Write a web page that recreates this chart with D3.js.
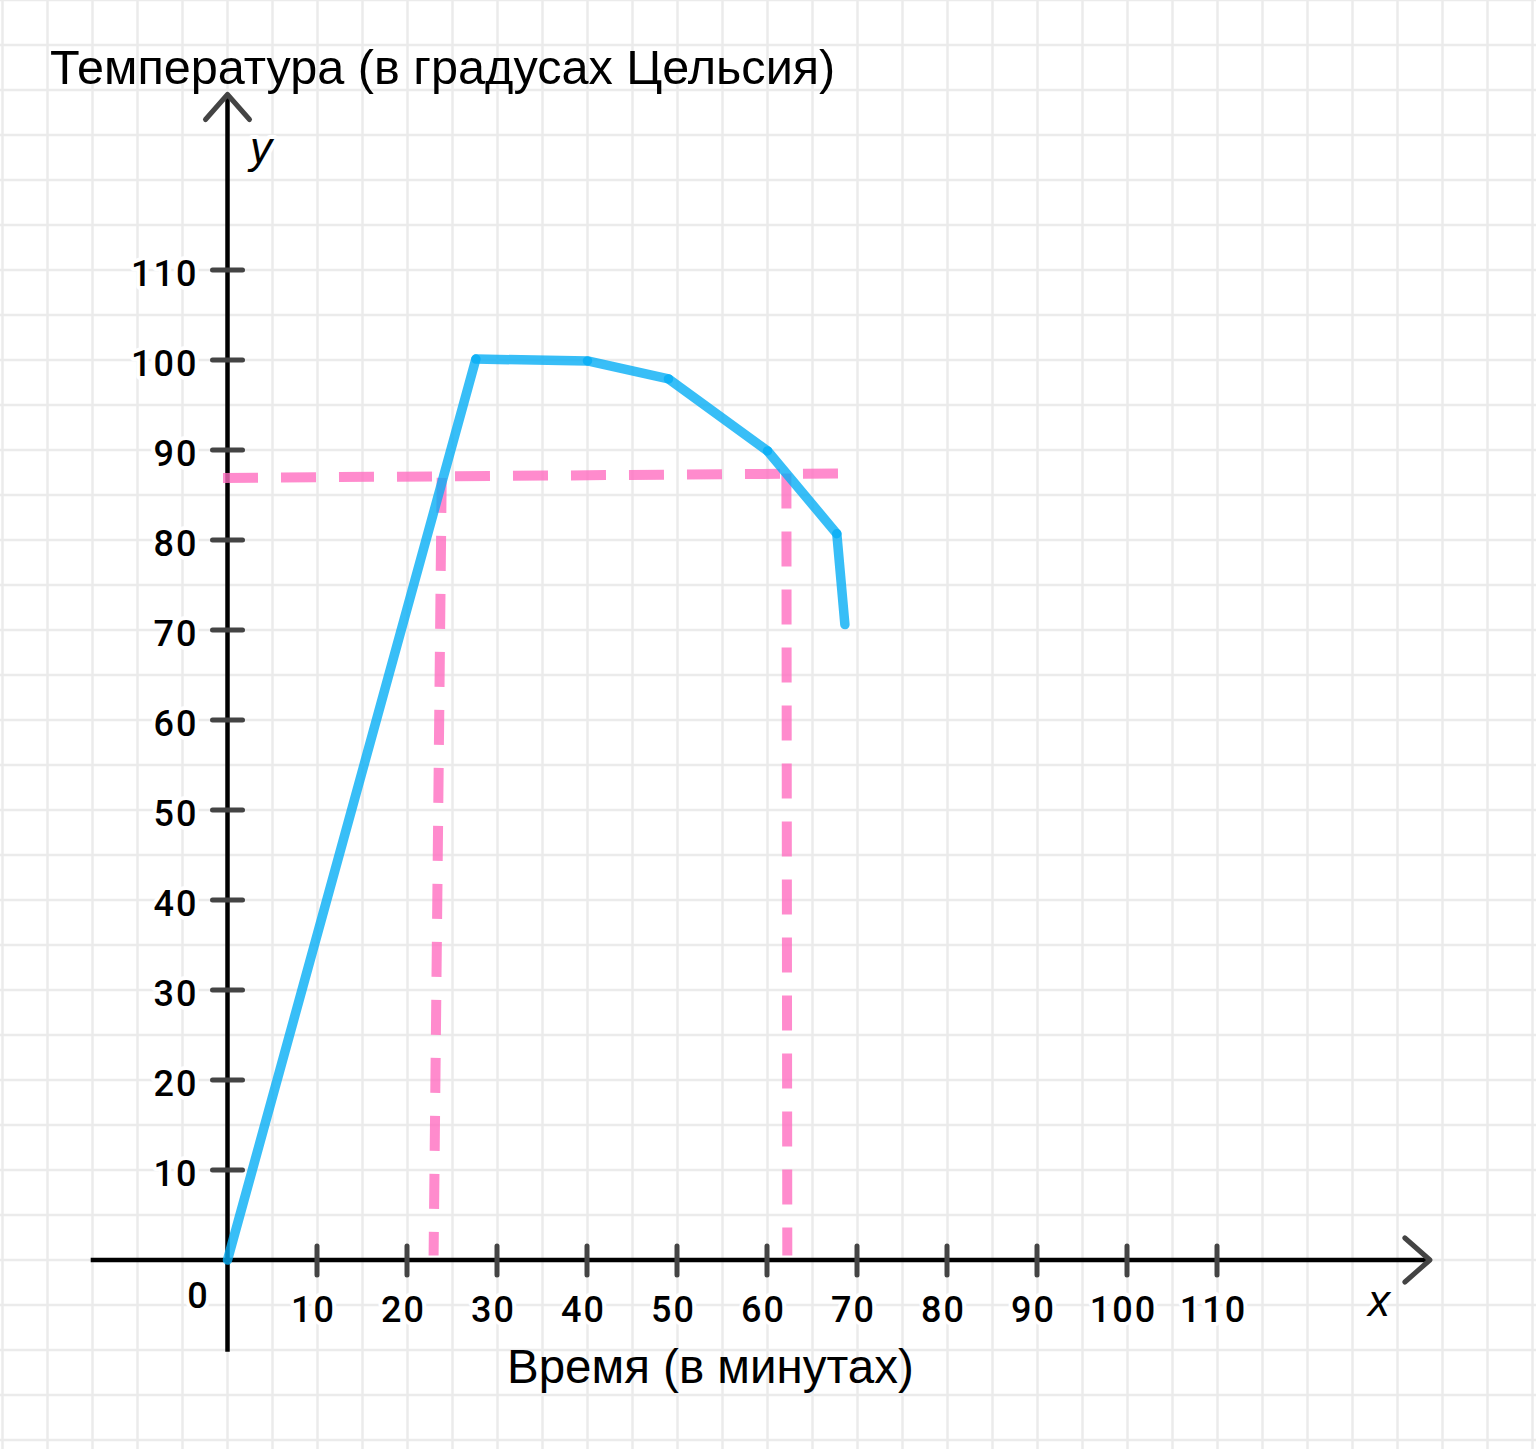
<!DOCTYPE html>
<html><head><meta charset="utf-8">
<script src="https://cdn.jsdelivr.net/npm/d3@7"></script>
<style>html,body{margin:0;padding:0;background:#fff;}svg{display:block;}</style>
</head><body>
<svg id="chart" width="1536" height="1449"></svg>
<script>
// ---- data ----
const timeMin = [0, 27.6, 40, 49, 60, 67.7, 68.6];
const tempC   = [0, 100.1, 99.9, 97.9, 89.9, 80.7, 70.6];
const xTickValues = [10, 20, 30, 40, 50, 60, 70, 80, 90, 100, 110];
const yTickValues = [10, 20, 30, 40, 50, 60, 70, 80, 90, 100, 110];
const guideHx = [-0.5, 68.5], guideHy = [86.9, 87.4];
const guide1x = [23.8, 22.9], guide1y = [86.9, 0.5];
const guide2x = [62.1, 62.2], guide2y = [87.4, 0.5];
const yTitle = "Температура (в градусах Цельсия)";
const xTitle = "Время (в минутах)";

const svg = d3.select("#chart");
const x = d3.scaleLinear().domain([0, 110]).range([227.5, 1217.5]);
const y = d3.scaleLinear().domain([0, 110]).range([1260, 270]);

// background
svg.append("rect").attr("width", 1536).attr("height", 1449).attr("fill", "#fff");

// grid (every 5 units)
const g = svg.append("g").attr("stroke", "#ebebeb").attr("stroke-width", 2.5);
d3.range(-25, 146, 5).forEach(v => {
  g.append("line").attr("x1", x(v)).attr("x2", x(v)).attr("y1", 0).attr("y2", 1449);
});
d3.range(-20, 141, 5).forEach(v => {
  g.append("line").attr("y1", y(v)).attr("y2", y(v)).attr("x1", 0).attr("x2", 1536);
});

// axes
svg.append("line").attr("x1", x(-15.2)).attr("x2", x(133.6)).attr("y1", y(0)).attr("y2", y(0))
  .attr("stroke", "#000").attr("stroke-width", 4.5);
svg.append("line").attr("x1", x(0)).attr("x2", x(0)).attr("y1", y(-10.2)).attr("y2", y(129.5))
  .attr("stroke", "#000").attr("stroke-width", 4.5);

const dark = "#444";
// arrowheads
svg.append("path")
  .attr("d", `M${x(0)-22},${y(129.5)+25} L${x(0)},${y(129.5)} L${x(0)+22},${y(129.5)+25}`)
  .attr("fill", "none").attr("stroke", dark).attr("stroke-width", 5)
  .attr("stroke-linecap", "round").attr("stroke-linejoin", "round");
svg.append("path")
  .attr("d", `M${x(133.6)-25},${y(0)-22} L${x(133.6)},${y(0)} L${x(133.6)-25},${y(0)+22}`)
  .attr("fill", "none").attr("stroke", dark).attr("stroke-width", 5)
  .attr("stroke-linecap", "round").attr("stroke-linejoin", "round");

// ticks
svg.append("g").selectAll("line").data(xTickValues).join("line")
  .attr("x1", d => x(d) - 0.5).attr("x2", d => x(d) - 0.5)
  .attr("y1", y(0) - 14).attr("y2", y(0) + 15)
  .attr("stroke", dark).attr("stroke-width", 5).attr("stroke-linecap", "round");
svg.append("g").selectAll("line").data(yTickValues).join("line")
  .attr("y1", d => y(d)).attr("y2", d => y(d))
  .attr("x1", x(0) - 15).attr("x2", x(0) + 15)
  .attr("stroke", dark).attr("stroke-width", 5).attr("stroke-linecap", "round");

// labels
function halo(sel) {
  return sel.attr("stroke", "#fff").attr("stroke-width", 8).attr("stroke-linejoin", "round")
    .attr("paint-order", "stroke").attr("fill", "#000");
}
const textFont = "'Liberation Sans', Arial, sans-serif";
const tickFont = "Roboto, 'Liberation Sans', sans-serif";
halo(svg.append("g").selectAll("text").data(xTickValues).join("text")
  .attr("x", d => x(d) - 4).attr("y", y(0) + 62)
  .attr("text-anchor", "middle").attr("font-family", tickFont).attr("font-size", 36)
  .attr("font-weight", 500).attr("letter-spacing", 2).text(d => d));
halo(svg.append("g").selectAll("text").data(yTickValues).join("text")
  .attr("x", x(0) - 29).attr("y", d => y(d) + 16)
  .attr("text-anchor", "end").attr("font-family", tickFont).attr("font-size", 36)
  .attr("font-weight", 500).attr("letter-spacing", 2).text(d => d));
halo(svg.append("text").attr("x", x(0) - 30).attr("y", y(0) + 48)
  .attr("text-anchor", "middle").attr("font-family", tickFont).attr("font-size", 36)
  .attr("font-weight", 500).text("0"));

halo(svg.append("text").attr("x", 250).attr("y", 163).attr("font-family", textFont)
  .attr("font-style", "italic").attr("font-size", 44).text("y"));
halo(svg.append("text").attr("x", 1368).attr("y", 1316).attr("font-family", textFont)
  .attr("font-style", "italic").attr("font-size", 44).text("x"));

svg.append("text").attr("x", 50).attr("y", 84).attr("font-family", textFont)
  .attr("font-size", 48.6).attr("fill", "#000").text(yTitle);
svg.append("text").attr("x", 507).attr("y", 1383).attr("font-family", textFont)
  .attr("font-size", 47.5).attr("fill", "#000").text(xTitle);

// pink guides
const pink = svg.append("g").attr("stroke", "#ff6ec0").attr("stroke-opacity", 0.8)
  .attr("stroke-width", 10).attr("stroke-dasharray", "35 23").attr("fill", "none");
[[guideHx, guideHy], [guide1x, guide1y], [guide2x, guide2y]].forEach(([gx, gy]) => {
  pink.append("line").attr("x1", x(gx[0])).attr("y1", y(gy[0])).attr("x2", x(gx[1])).attr("y2", y(gy[1]));
});

// blue line as separate segments (overlap darkens joints)
const pts = timeMin.map((t, i) => [t, tempC[i]]);
const segs = d3.pairs(pts);
svg.append("g").selectAll("line").data(segs).join("line")
  .attr("x1", d => x(d[0][0])).attr("y1", d => y(d[0][1]))
  .attr("x2", d => x(d[1][0])).attr("y2", d => y(d[1][1]))
  .attr("stroke", "#06aef5").attr("stroke-opacity", 0.8).attr("stroke-width", 9.5)
  .attr("stroke-linecap", "round");
</script>
</body></html>
